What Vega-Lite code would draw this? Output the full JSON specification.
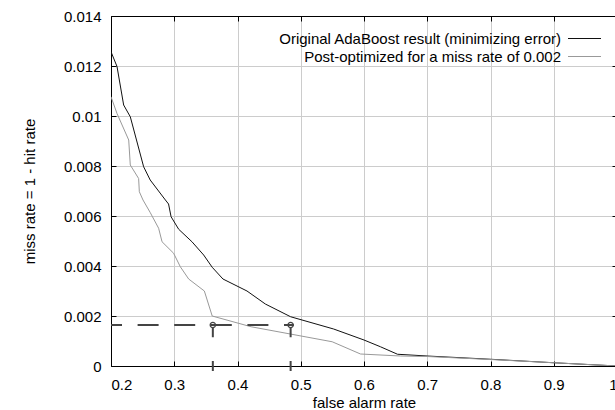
{
  "$schema": "https://vega.github.io/schema/vega-lite/v6.json",
  "width": 506,
  "height": 350,
  "autosize": {"type": "none"},
  "padding": {"left": 111, "top": 16, "right": 0, "bottom": 44},
  "background": "white",
  "config": {
    "font": "Liberation Sans",
    "view": {"stroke": null},
    "axis": {
      "domainColor": "#000000",
      "domainWidth": 1,
      "tickColor": "#000000",
      "tickSize": -5,
      "tickWidth": 1,
      "gridColor": "#cccccc",
      "gridWidth": 1,
      "labelFont": "Liberation Sans",
      "labelFontSize": 15,
      "labelColor": "#000000",
      "titleFont": "Liberation Sans",
      "titleFontSize": 15,
      "titleFontWeight": "normal",
      "titleColor": "#000000"
    },
    "legend": {
      "orient": "none",
      "legendX": 466,
      "legendY": 15,
      "padding": 0,
      "symbolType": "M-5,0H5",
      "symbolSize": 43.56,
      "symbolStrokeWidth": 1,
      "labelAlign": "right",
      "labelOffset": -31,
      "labelFont": "Liberation Sans",
      "labelFontSize": 15,
      "labelColor": "#000000",
      "rowPadding": 2,
      "labelLimit": 400
    }
  },
  "datasets": {
    "curves": [
      {"series": "Original AdaBoost result (minimizing error)", "fa": 0.2, "miss": 0.01257},
      {"series": "Original AdaBoost result (minimizing error)", "fa": 0.2095, "miss": 0.01198},
      {"series": "Original AdaBoost result (minimizing error)", "fa": 0.22, "miss": 0.01044},
      {"series": "Original AdaBoost result (minimizing error)", "fa": 0.2305, "miss": 0.00997},
      {"series": "Original AdaBoost result (minimizing error)", "fa": 0.2516, "miss": 0.00797},
      {"series": "Original AdaBoost result (minimizing error)", "fa": 0.262, "miss": 0.00744},
      {"series": "Original AdaBoost result (minimizing error)", "fa": 0.286, "miss": 0.00664},
      {"series": "Original AdaBoost result (minimizing error)", "fa": 0.291, "miss": 0.00648},
      {"series": "Original AdaBoost result (minimizing error)", "fa": 0.295, "miss": 0.00597},
      {"series": "Original AdaBoost result (minimizing error)", "fa": 0.307, "miss": 0.00547},
      {"series": "Original AdaBoost result (minimizing error)", "fa": 0.328, "miss": 0.00497},
      {"series": "Original AdaBoost result (minimizing error)", "fa": 0.3465, "miss": 0.00444},
      {"series": "Original AdaBoost result (minimizing error)", "fa": 0.36, "miss": 0.00395},
      {"series": "Original AdaBoost result (minimizing error)", "fa": 0.377, "miss": 0.00348},
      {"series": "Original AdaBoost result (minimizing error)", "fa": 0.415, "miss": 0.003},
      {"series": "Original AdaBoost result (minimizing error)", "fa": 0.444, "miss": 0.00248},
      {"series": "Original AdaBoost result (minimizing error)", "fa": 0.484, "miss": 0.00197},
      {"series": "Original AdaBoost result (minimizing error)", "fa": 0.552, "miss": 0.00148},
      {"series": "Original AdaBoost result (minimizing error)", "fa": 0.6, "miss": 0.00104},
      {"series": "Original AdaBoost result (minimizing error)", "fa": 0.626, "miss": 0.00077},
      {"series": "Original AdaBoost result (minimizing error)", "fa": 0.653, "miss": 0.00047},
      {"series": "Original AdaBoost result (minimizing error)", "fa": 0.7, "miss": 0.0004},
      {"series": "Original AdaBoost result (minimizing error)", "fa": 0.8, "miss": 0.00027},
      {"series": "Original AdaBoost result (minimizing error)", "fa": 0.9, "miss": 0.00013},
      {"series": "Original AdaBoost result (minimizing error)", "fa": 1.0, "miss": 0},
      {"series": "Post-optimized for a miss rate of 0.002", "fa": 0.2, "miss": 0.01077},
      {"series": "Post-optimized for a miss rate of 0.002", "fa": 0.2095, "miss": 0.0101},
      {"series": "Post-optimized for a miss rate of 0.002", "fa": 0.228, "miss": 0.00904},
      {"series": "Post-optimized for a miss rate of 0.002", "fa": 0.2305, "miss": 0.00804},
      {"series": "Post-optimized for a miss rate of 0.002", "fa": 0.2437, "miss": 0.0075},
      {"series": "Post-optimized for a miss rate of 0.002", "fa": 0.2448, "miss": 0.00697},
      {"series": "Post-optimized for a miss rate of 0.002", "fa": 0.2506, "miss": 0.00664},
      {"series": "Post-optimized for a miss rate of 0.002", "fa": 0.2622, "miss": 0.00613},
      {"series": "Post-optimized for a miss rate of 0.002", "fa": 0.2753, "miss": 0.00551},
      {"series": "Post-optimized for a miss rate of 0.002", "fa": 0.2807, "miss": 0.00497},
      {"series": "Post-optimized for a miss rate of 0.002", "fa": 0.299, "miss": 0.00451},
      {"series": "Post-optimized for a miss rate of 0.002", "fa": 0.3096, "miss": 0.00397},
      {"series": "Post-optimized for a miss rate of 0.002", "fa": 0.3228, "miss": 0.00348},
      {"series": "Post-optimized for a miss rate of 0.002", "fa": 0.3476, "miss": 0.003},
      {"series": "Post-optimized for a miss rate of 0.002", "fa": 0.36, "miss": 0.002},
      {"series": "Post-optimized for a miss rate of 0.002", "fa": 0.4215, "miss": 0.00157},
      {"series": "Post-optimized for a miss rate of 0.002", "fa": 0.5497, "miss": 0.00097},
      {"series": "Post-optimized for a miss rate of 0.002", "fa": 0.5945, "miss": 0.00048},
      {"series": "Post-optimized for a miss rate of 0.002", "fa": 0.6578, "miss": 0.0004},
      {"series": "Post-optimized for a miss rate of 0.002", "fa": 0.7, "miss": 0.00038},
      {"series": "Post-optimized for a miss rate of 0.002", "fa": 0.8, "miss": 0.00026},
      {"series": "Post-optimized for a miss rate of 0.002", "fa": 0.9, "miss": 0.00013},
      {"series": "Post-optimized for a miss rate of 0.002", "fa": 1.0, "miss": 0}
    ],
    "dash": [
      {"fa": 0.2, "miss": 0.00164},
      {"fa": 0.489, "miss": 0.00164}
    ],
    "marks": [
      {"fa": 0.361, "miss": 0.00164, "stem": 0.00152, "low": 0.00115, "base": -0.0002, "top": 0.0002},
      {"fa": 0.484, "miss": 0.00164, "stem": 0.00152, "low": 0.00115, "base": -0.0002, "top": 0.0002}
    ]
  },
  "resolve": {"axis": {"x": "independent", "y": "independent"}},
  "layer": [
    {
      "data": {"name": "curves"},
      "mark": {"type": "line", "strokeWidth": 1, "clip": true},
      "encoding": {
        "x": {
          "field": "fa", "type": "quantitative",
          "scale": {"domain": [0.2, 1.0], "nice": false, "zero": false},
          "axis": {"orient": "bottom", "title": "false alarm rate", "values": [0.2,0.3,0.4,0.5,0.6,0.7,0.8,0.9,1.0], "format": "~g", "grid": true, "labelPadding": 16, "titlePadding": 3}
        },
        "y": {
          "field": "miss", "type": "quantitative",
          "scale": {"domain": [0, 0.014], "nice": false},
          "axis": {"orient": "left", "title": "miss rate = 1 - hit rate", "values": [0,0.002,0.004,0.006,0.008,0.01,0.012,0.014], "format": "~g", "grid": true, "labelPadding": 15, "titlePadding": 26}
        },
        "stroke": {
          "field": "series", "type": "nominal",
          "scale": {"domain": ["Original AdaBoost result (minimizing error)", "Post-optimized for a miss rate of 0.002"], "range": ["#111111", "#999999"]},
          "legend": {"title": null}
        },
        "order": {"field": "fa", "type": "quantitative"}
      }
    },
    {
      "data": {"name": "dash"},
      "mark": {"type": "line", "stroke": "#444444", "strokeWidth": 2, "strokeDash": [21, 15.6], "strokeDashOffset": 10},
      "encoding": {
        "x": {"field": "fa", "type": "quantitative", "axis": {"orient": "top", "labels": false, "title": null, "grid": false, "values": [0.2,0.3,0.4,0.5,0.6,0.7,0.8,0.9,1.0]}},
        "y": {"field": "miss", "type": "quantitative", "axis": {"orient": "right", "labels": false, "title": null, "grid": false, "values": [0,0.002,0.004,0.006,0.008,0.01,0.012,0.014]}}
      }
    },
    {
      "data": {"name": "marks"},
      "mark": {"type": "rule", "stroke": "#444444", "strokeWidth": 2},
      "encoding": {
        "x": {"field": "fa", "type": "quantitative", "axis": null},
        "y": {"field": "low", "type": "quantitative", "axis": null},
        "y2": {"field": "stem"}
      }
    },
    {
      "data": {"name": "marks"},
      "mark": {"type": "rule", "stroke": "#444444", "strokeWidth": 2},
      "encoding": {
        "x": {"field": "fa", "type": "quantitative", "axis": null},
        "y": {"field": "base", "type": "quantitative", "axis": null},
        "y2": {"field": "top"}
      }
    },
    {
      "data": {"name": "marks"},
      "mark": {"type": "point", "shape": "circle", "filled": false, "stroke": "#444444", "strokeWidth": 1.3, "size": 28, "opacity": 1},
      "encoding": {
        "x": {"field": "fa", "type": "quantitative", "axis": null},
        "y": {"field": "miss", "type": "quantitative", "axis": null}
      }
    }
  ]
}
